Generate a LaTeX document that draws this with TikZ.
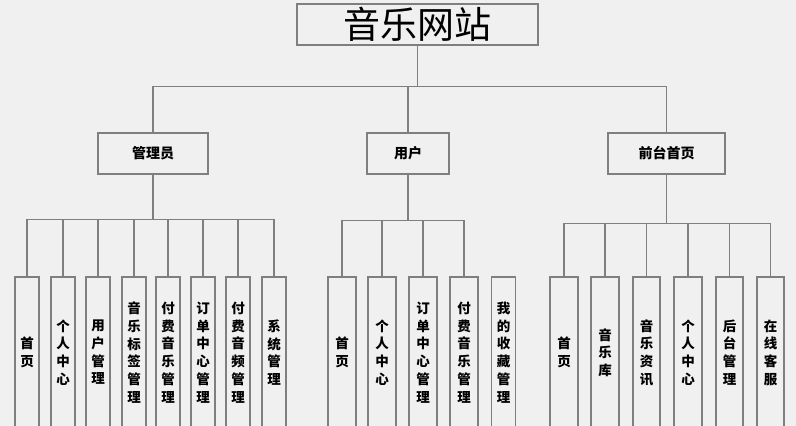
\documentclass[tikz,border=0pt]{standalone}
\usepackage{fontspec}
\newfontfamily\cjk{Noto Sans CJK SC}
\definecolor{bg}{HTML}{F0F0F0}
\definecolor{ln}{HTML}{7F7F7F}
\begin{document}
\begin{tikzpicture}[x=1pt,y=-1pt,
  box/.style={draw=ln,line width=1.3pt,fill=bg,inner sep=0pt},
  midbox/.style={box,minimum width=#1,minimum height=41pt,font=\cjk\bfseries\fontsize{14}{16}\selectfont},
  leaf/.style={box,minimum width=#1,minimum height=151pt,align=center,font=\cjk\bfseries\fontsize{13.5}{17.7}\selectfont},
  conn/.style={draw=ln,line width=1.3pt}]
\useasboundingbox (0,0) rectangle (796,426);
\clip (0,0) rectangle (796,426);
\fill[bg] (0,0) rectangle (796,426);

\node[box,minimum width=241pt,minimum height=41pt,font=\cjk\fontsize{37}{40}\selectfont] (top) at (417.5,24.5) {音乐网站};

\node[midbox=110pt] (adm) at (153,153.5) {管理员};
\node[midbox=82pt] (usr) at (408,153.5) {用户};
\node[midbox=117pt] (frt) at (666.5,153.5) {前台首页};

% admin leaves
\node[leaf=24pt] (a1) at (27,352.5) {首\\页};
\node[leaf=24pt] (a2) at (63,352.5) {个\\人\\中\\心};
\node[leaf=24pt] (a3) at (98,352.5) {用\\户\\管\\理};
\node[leaf=24pt] (a4) at (134,352.5) {音\\乐\\标\\签\\管\\理};
\node[leaf=24pt] (a5) at (168,352.5) {付\\费\\音\\乐\\管\\理};
\node[leaf=24pt] (a6) at (203,352.5) {订\\单\\中\\心\\管\\理};
\node[leaf=24pt] (a7) at (238,352.5) {付\\费\\音\\频\\管\\理};
\node[leaf=24pt] (a8) at (274,352.5) {系\\统\\管\\理};

% user leaves
\node[leaf=28pt] (u1) at (342,352.5) {首\\页};
\node[leaf=28pt] (u2) at (382,352.5) {个\\人\\中\\心};
\node[leaf=28pt] (u3) at (423,352.5) {订\\单\\中\\心\\管\\理};
\node[leaf=28pt] (u4) at (464,352.5) {付\\费\\音\\乐\\管\\理};
\node[leaf=24pt] (u5) at (503.5,352.5) {我\\的\\收\\藏\\管\\理};

% front leaves
\node[leaf=28pt] (f1) at (564,352.5) {首\\页};
\node[leaf=28pt] (f2) at (605,352.5) {音\\乐\\库};
\node[leaf=27pt] (f3) at (646.5,352.5) {音\\乐\\资\\讯};
\node[leaf=28pt] (f4) at (688,352.5) {个\\人\\中\\心};
\node[leaf=27pt] (f5) at (729.5,352.5) {后\\台\\管\\理};
\node[leaf=27pt] (f6) at (770.5,352.5) {在\\线\\客\\服};

% connectors
\foreach \c in {adm,usr,frt}
  \draw[conn] (top.south) -- ++(0,41) -| (\c.north);
\foreach \c in {a1,a2,a3,a4,a5,a6,a7,a8}
  \draw[conn] (adm.south) -- ++(0,45) -| (\c.north);
\foreach \c in {u1,u2,u3,u4}
  \draw[conn] (usr.south) -- ++(0,46) -| (\c.north);
\foreach \c in {f1,f2,f3,f4,f5,f6}
  \draw[conn] (frt.south) -- ++(0,49) -| (\c.north);
\end{tikzpicture}
\end{document}
